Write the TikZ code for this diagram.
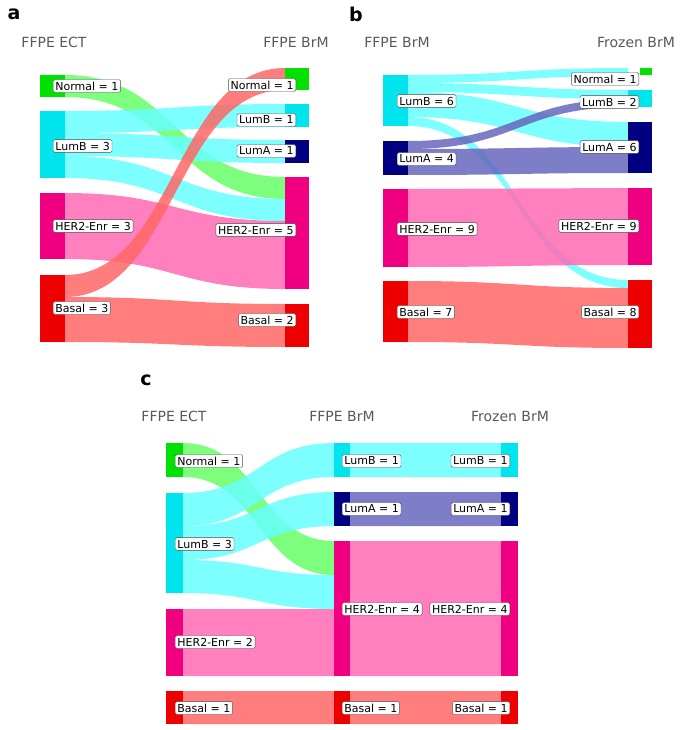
\documentclass[tikz,border=0pt]{standalone}
\usepackage{fontspec}
\setsansfont{DejaVu Sans}
\usetikzlibrary{positioning}

\definecolor{cNormal}{RGB}{0,225,0}
\definecolor{cLumB}{RGB}{0,228,238}
\definecolor{cLumA}{RGB}{0,0,128}
\definecolor{cHer}{RGB}{240,0,128}
\definecolor{cBasal}{RGB}{238,0,0}
\definecolor{fNormal}{RGB}{102,255,102}
\definecolor{fLumB}{RGB}{102,255,255}
\definecolor{fLumA}{RGB}{102,102,190}
\definecolor{fHer}{RGB}{255,105,180}
\definecolor{fBasal}{RGB}{255,102,102}

% flow band: x1, top1, bottom1, x2, top2, bottom2, colour
\newcommand{\flowband}[7]{%
  \fill[#7, fill opacity=0.85]
    (#1,#2) .. controls ({(#1+#4)/2},#2) and ({(#1+#4)/2},#5) .. (#4,#5)
    -- (#4,#6) .. controls ({(#1+#4)/2},#6) and ({(#1+#4)/2},#3) .. (#1,#3) -- cycle;}
% bar: x1, x2, top, bottom, colour
\newcommand{\sbar}[5]{\fill[#5] (#1,#3) rectangle (#2,#4);}

\begin{document}
\begin{tikzpicture}[x=1pt, y=-1pt,
    lbl/.style = {draw=black!70, fill=white, rounded corners=1.5pt, inner sep=2.2pt,
                  font=\sffamily\fontsize{11}{12}\selectfont},
    ttl/.style = {text=black!65, font=\sffamily\fontsize{14}{15}\selectfont},
    pnl/.style = {font=\sffamily\bfseries\fontsize{19}{20}\selectfont}]
\useasboundingbox (0,0) rectangle (685,730);

% ---- panel a
\node[pnl]              (pa)  at (14,14) {a};
\node[ttl]              (ta1) at (54,42) {FFPE ECT};
\node[ttl]              (ta2) at (296,42) {FFPE BrM};
\flowband{65}{75}{97}{285}{177}{199}{fNormal}
\flowband{65}{111}{133}{285}{104}{127}{fLumB}
\flowband{65}{133}{156}{285}{140}{163}{fLumB}
\flowband{65}{156}{178}{285}{199}{221}{fLumB}
\flowband{65}{193}{259}{285}{221}{289}{fHer}
\flowband{65}{297}{342}{285}{304}{347}{fBasal}
\flowband{65}{275}{297}{285}{68}{90}{fBasal}
\sbar{40}{65}{75}{97}{cNormal}
\sbar{40}{65}{111}{178}{cLumB}
\sbar{40}{65}{193}{259}{cHer}
\sbar{40}{65}{275}{342}{cBasal}
\sbar{285}{309}{68}{90}{cNormal}
\sbar{285}{309}{104}{127}{cLumB}
\sbar{285}{309}{140}{163}{cLumA}
\sbar{285}{309}{177}{289}{cHer}
\sbar{285}{309}{304}{347}{cBasal}
\node[lbl, anchor=west] (aL1) at (53,86)  {Normal = 1};
\node[lbl, anchor=west] (aL2) at (53,146) {LumB = 3};
\node[lbl, anchor=west] (aL3) at (53,226) {HER2-Enr = 3};
\node[lbl, anchor=west] (aL4) at (53,308) {Basal = 3};
\node[lbl, anchor=east] (aR1) at (296,85)  {Normal = 1};
\node[lbl, anchor=east] (aR2) at (296,120) {LumB = 1};
\node[lbl, anchor=east] (aR3) at (296,151) {LumA = 1};
\node[lbl, anchor=east] (aR4) at (296,230) {HER2-Enr = 5};
\node[lbl, anchor=east] (aR5) at (296,320) {Basal = 2};

% ---- panel b
\node[pnl]              (pb)  at (356,14) {b};
\node[ttl]              (tb1) at (397,42) {FFPE BrM};
\node[ttl]              (tb2) at (636,42) {Frozen BrM};
\flowband{408}{75}{83}{628}{68}{76}{fLumB}
\flowband{408}{83}{92}{628}{90}{99}{fLumB}
\flowband{408}{92}{117}{628}{122}{147}{fLumB}
\flowband{408}{117}{126}{628}{280}{288}{fLumB}
\flowband{408}{141}{149}{628}{99}{107}{fLumA}
\flowband{408}{149}{175}{628}{147}{173}{fLumA}
\flowband{408}{189}{267}{628}{188}{265}{fHer}
\flowband{408}{281}{342}{628}{288}{348}{fBasal}
\sbar{383}{408}{75}{126}{cLumB}
\sbar{383}{408}{141}{175}{cLumA}
\sbar{383}{408}{189}{267}{cHer}
\sbar{383}{408}{281}{342}{cBasal}
\sbar{640}{652}{68}{75}{cNormal}
\sbar{628}{652}{90}{107}{cLumB}
\sbar{628}{652}{122}{173}{cLumA}
\sbar{628}{652}{188}{265}{cHer}
\sbar{628}{652}{280}{348}{cBasal}
\node[lbl, anchor=west] (bL1) at (397,101) {LumB = 6};
\node[lbl, anchor=west] (bL2) at (397,159) {LumA = 4};
\node[lbl, anchor=west] (bL3) at (397,229) {HER2-Enr = 9};
\node[lbl, anchor=west] (bL4) at (397,312) {Basal = 7};
\node[lbl, anchor=east] (bR1) at (639,79)  {Normal = 1};
\node[lbl, anchor=east] (bR2) at (639,102) {LumB = 2};
\node[lbl, anchor=east] (bR3) at (639,147) {LumA = 6};
\node[lbl, anchor=east] (bR4) at (639,226) {HER2-Enr = 9};
\node[lbl, anchor=east] (bR5) at (639,312) {Basal = 8};

% ---- panel c
\node[pnl]              (pc)  at (146,380) {c};
\node[ttl]              (tc1) at (174,416) {FFPE ECT};
\node[ttl]              (tc2) at (342,416) {FFPE BrM};
\node[ttl]              (tc3) at (510,416) {Frozen BrM};
\flowband{183}{443}{477}{334}{541}{575}{fNormal}
\flowband{183}{493}{526}{334}{443}{477}{fLumB}
\flowband{183}{526}{560}{334}{492}{526}{fLumB}
\flowband{183}{560}{593}{334}{575}{609}{fLumB}
\flowband{183}{609}{676}{334}{609}{676}{fHer}
\flowband{183}{691}{724}{334}{691}{724}{fBasal}
\flowband{350}{443}{477}{501}{443}{477}{fLumB}
\flowband{350}{492}{526}{501}{492}{526}{fLumA}
\flowband{350}{541}{676}{501}{541}{676}{fHer}
\flowband{350}{691}{724}{501}{691}{724}{fBasal}
\foreach \xa/\xb in {334/350, 501/518} {
  \sbar{\xa}{\xb}{443}{477}{cLumB}
  \sbar{\xa}{\xb}{492}{526}{cLumA}
  \sbar{\xa}{\xb}{541}{676}{cHer}
  \sbar{\xa}{\xb}{691}{724}{cBasal}
}
\sbar{166}{183}{443}{477}{cNormal}
\sbar{166}{183}{493}{593}{cLumB}
\sbar{166}{183}{609}{676}{cHer}
\sbar{166}{183}{691}{724}{cBasal}
\node[lbl, anchor=west] (cL1) at (175,461) {Normal = 1};
\node[lbl, anchor=west] (cL2) at (175,544) {LumB = 3};
\node[lbl, anchor=west] (cL3) at (175,642) {HER2-Enr = 2};
\node[lbl, anchor=west] (cL4) at (175,708) {Basal = 1};
\node[lbl, anchor=west] (cM1) at (342,461) {LumB = 1};
\node[lbl, anchor=west] (cM2) at (342,509) {LumA = 1};
\node[lbl, anchor=west] (cM3) at (342,609) {HER2-Enr = 4};
\node[lbl, anchor=west] (cM4) at (342,708) {Basal = 1};
\node[lbl, anchor=east] (cR1) at (510,461) {LumB = 1};
\node[lbl, anchor=east] (cR2) at (510,509) {LumA = 1};
\node[lbl, anchor=east] (cR3) at (510,609) {HER2-Enr = 4};
\node[lbl, anchor=east] (cR4) at (510,708) {Basal = 1};
\end{tikzpicture}
\end{document}
